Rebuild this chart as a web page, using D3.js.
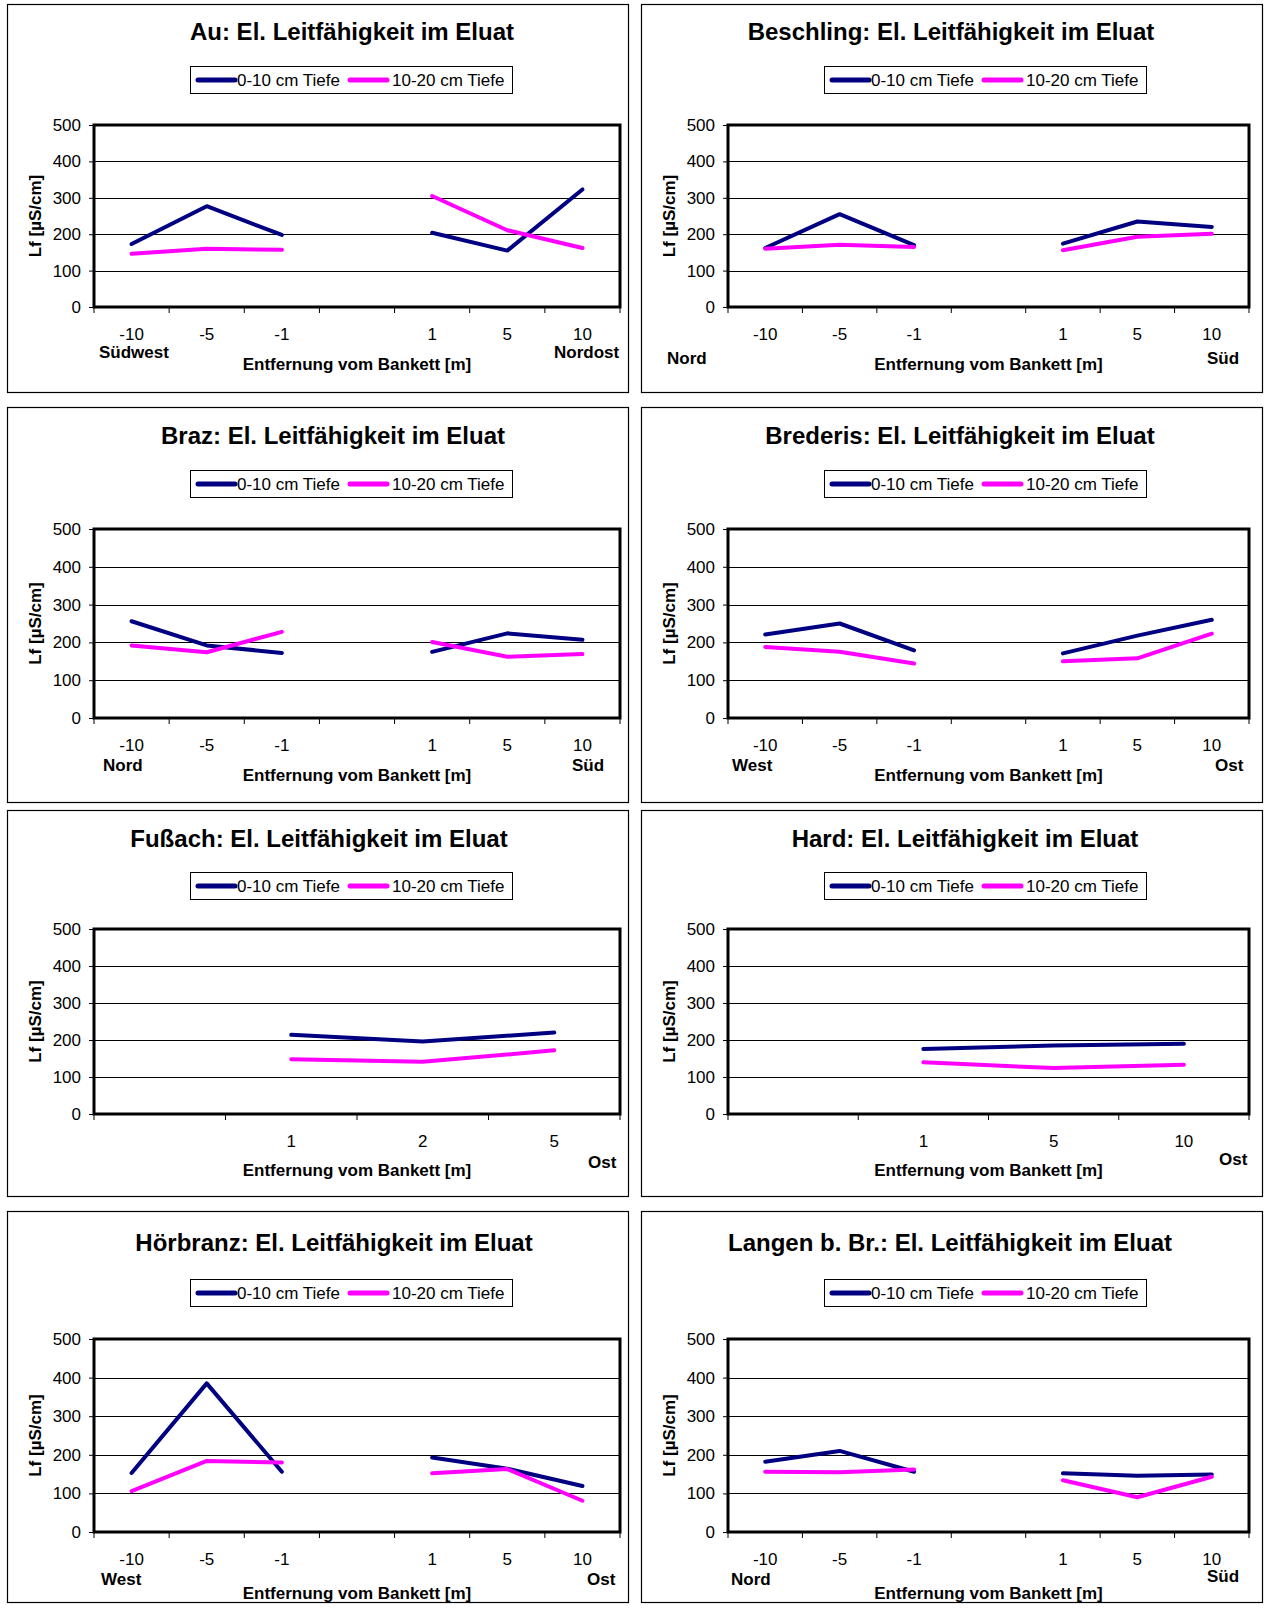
<!DOCTYPE html>
<html>
<head>
<meta charset="utf-8">
<script src="https://cdn.jsdelivr.net/npm/d3@7"></script>
<style>
  body { margin: 0; background: #fff; }
  text { font-family: "Liberation Sans", Arial, sans-serif; fill: #000; }
</style>
</head>
<body>
<svg id="chart"></svg>
<script>
// ---- Data ----
const catsSplit   = ["-10", "-5", "-1", "", "1", "5", "10"];
const catsFussach = ["", "1", "2", "5"];
const catsHard    = ["", "1", "5", "10"];
const seriesNames = ["0-10 cm Tiefe", "10-20 cm Tiefe"];
const yTicks = [0, 100, 200, 300, 400, 500];

const sites = ["Au", "Beschling", "Braz", "Brederis", "Fußach", "Hard", "Hörbranz", "Langen b. Br."];
const xTitle = "Entfernung vom Bankett [m]";
const yTitle = "Lf [µS/cm]";

const auTop        = [173, 277, 198, null, 204, 155, 323];
const auSub        = [146, 160, 157, null, 305, 211, 162];
const beschlingTop = [162, 255, 170, null, 174, 235, 220];
const beschlingSub = [160, 171, 165, null, 156, 193, 201];
const brazTop      = [256, 192, 172, null, 175, 224, 207];
const brazSub      = [192, 174, 228, null, 201, 162, 169];
const brederisTop  = [221, 250, 179, null, 171, 218, 260];
const brederisSub  = [188, 175, 144, null, 150, 158, 223];
const fussachTop   = [null, 214, 196, 220];
const fussachSub   = [null, 148, 141, 172];
const hardTop      = [null, 176, 185, 190];
const hardSub      = [null, 140, 124, 133];
const hoerbranzTop = [153, 385, 156, null, 193, 164, 119];
const hoerbranzSub = [106, 184, 180, null, 152, 163, 81];
const langenTop    = [182, 210, 156, null, 152, 146, 149];
const langenSub    = [156, 155, 162, null, 134, 90, 143];

const dirLabels = [
  ["Südwest", "Nordost"], ["Nord", "Süd"], ["Nord", "Süd"], ["West", "Ost"],
  [null, "Ost"], [null, "Ost"], ["West", "Ost"], ["Nord", "Süd"]
];

const panels = [
  { cats: catsSplit,   top: auTop,        sub: auSub },
  { cats: catsSplit,   top: beschlingTop, sub: beschlingSub },
  { cats: catsSplit,   top: brazTop,      sub: brazSub },
  { cats: catsSplit,   top: brederisTop,  sub: brederisSub },
  { cats: catsFussach, top: fussachTop,   sub: fussachSub },
  { cats: catsHard,    top: hardTop,      sub: hardSub },
  { cats: catsSplit,   top: hoerbranzTop, sub: hoerbranzSub },
  { cats: catsSplit,   top: langenTop,    sub: langenSub }
].map((p, i) => ({ ...p, site: sites[i], dirs: dirLabels[i] }));

// ---- Layout ----
const W = 1266, H = 1618;
const colX = [7, 641], panelW = 622;
const rowY = [4, 407, 810, 1211], rowH = [389, 396, 387, 392];
const plotTop = [125, 529, 929, 1339], plotBot = [307, 718, 1114, 1532];
const plotL = 87, plotR = [613, 608];
const titleY = [31, 435, 838, 1242];
const xTitleDy = [57, 57, 56, 61];
const legTop = [66, 470, 872, 1279], legH = 27, legL = 183, legW = 322;
const titleX = [345, 310, 326, 319, 312, 324, 327, 309];
// direction labels: [x start relative to panel, centre below plot bottom]
const dirPos = [
  [[92, 45], [547, 45]], [[26, 51], [566, 51]], [[96, 47], [565, 47]], [[91, 47], [574, 47]],
  [null, [581, 48]], [null, [578, 45]], [[94, 47], [580, 47]], [[90, 47], [566, 44]]
];
const colors = ["#000080", "#ff00ff"];

const svg = d3.select("#chart").attr("width", W).attr("height", H);
svg.append("rect").attr("width", W).attr("height", H).attr("fill", "#fff");

panels.forEach((p, i) => {
  const c = i % 2, r = Math.floor(i / 2);
  const px = colX[c], py = rowY[r];
  const g = svg.append("g");

  // panel frame
  g.append("rect")
    .attr("x", px + 0.5).attr("y", py + 0.5)
    .attr("width", panelW - 1).attr("height", rowH[r] - 1)
    .attr("fill", "#fff").attr("stroke", "#000").attr("stroke-width", 1.2);

  // title
  g.append("text")
    .attr("x", px + titleX[i]).attr("y", titleY[r] + 8.5)
    .attr("text-anchor", "middle")
    .attr("font-size", 24).attr("font-weight", "bold")
    .text(`${p.site}: El. Leitfähigkeit im Eluat`);

  // legend
  const lx = px + legL, ly = legTop[r];
  g.append("rect").attr("x", lx + 0.5).attr("y", ly + 0.5)
    .attr("width", legW).attr("height", legH)
    .attr("fill", "#fff").attr("stroke", "#000").attr("stroke-width", 1);
  const legItems = [[8, 47], [160, 202]];
  seriesNames.forEach((name, k) => {
    const [sx, tx] = legItems[k];
    g.append("line")
      .attr("x1", lx + sx).attr("x2", lx + sx + 37)
      .attr("y1", ly + legH / 2 + 0.5).attr("y2", ly + legH / 2 + 0.5)
      .attr("stroke", colors[k]).attr("stroke-width", 5).attr("stroke-linecap", "round");
    g.append("text")
      .attr("x", lx + tx).attr("y", ly + legH / 2 + 6.5)
      .attr("font-size", 17).text(name);
  });

  // scales
  const x0 = px + plotL, x1 = px + plotR[c];
  const y0 = plotBot[r], y1 = plotTop[r];
  const x = d3.scaleBand().domain(d3.range(p.cats.length)).range([x0, x1]);
  const y = d3.scaleLinear().domain([0, 500]).range([y0, y1]);

  // gridlines
  g.append("g").selectAll("line")
    .data(yTicks.filter(v => v > 0 && v < 500))
    .join("line")
    .attr("x1", x0).attr("x2", x1)
    .attr("y1", d => Math.round(y(d)) + 0.5).attr("y2", d => Math.round(y(d)) + 0.5)
    .attr("stroke", "#000").attr("stroke-width", 1);

  // y axis
  const ya = g.append("g").attr("transform", `translate(${x0},0)`)
    .call(d3.axisLeft(y).tickValues(yTicks).tickSize(5).tickPadding(8));
  ya.select(".domain").remove();
  ya.selectAll("line").attr("stroke", "#000");
  ya.selectAll("text").attr("font-size", 17)
    .attr("font-family", '"Liberation Sans", Arial, sans-serif');

  // x axis: tick marks at category boundaries, labels at centres
  const bounds = d3.range(p.cats.length + 1).map(k => k < p.cats.length ? x(k) : x1);
  g.append("g").selectAll("line").data(bounds).join("line")
    .attr("x1", d => d).attr("x2", d => d)
    .attr("y1", y0).attr("y2", y0 + 6)
    .attr("stroke", "#000").attr("stroke-width", 1);
  g.append("g").selectAll("text").data(p.cats).join("text")
    .attr("x", (d, k) => x(k) + x.bandwidth() / 2)
    .attr("y", y0 + 33)
    .attr("text-anchor", "middle").attr("font-size", 17)
    .text(d => d);

  // lines
  const line = d3.line()
    .defined(d => d != null)
    .x((d, k) => x(k) + x.bandwidth() / 2)
    .y(d => y(d));
  [p.top, p.sub].forEach((vals, k) => {
    g.append("path").attr("d", line(vals))
      .attr("fill", "none").attr("stroke", colors[k])
      .attr("stroke-width", 4).attr("stroke-linejoin", "round").attr("stroke-linecap", "round");
  });

  // plot border
  g.append("rect").attr("x", x0).attr("y", y1)
    .attr("width", x1 - x0).attr("height", y0 - y1)
    .attr("fill", "none").attr("stroke", "#000").attr("stroke-width", 3);

  // axis titles
  g.append("text")
    .attr("x", (x0 + x1) / 2).attr("y", y0 + xTitleDy[r] + 6)
    .attr("text-anchor", "middle").attr("font-size", 17).attr("font-weight", "bold")
    .text(xTitle);
  g.append("text")
    .attr("transform", `translate(${px + 34},${(y0 + y1) / 2}) rotate(-90)`)
    .attr("text-anchor", "middle").attr("font-size", 17).attr("font-weight", "bold")
    .text(yTitle);

  // direction labels
  p.dirs.forEach((lab, k) => {
    const pos = dirPos[i][k];
    if (!lab || !pos) return;
    g.append("text")
      .attr("x", px + pos[0]).attr("y", y0 + pos[1] + 6)
      .attr("font-size", 17).attr("font-weight", "bold")
      .text(lab);
  });
});
</script>
</body>
</html>
